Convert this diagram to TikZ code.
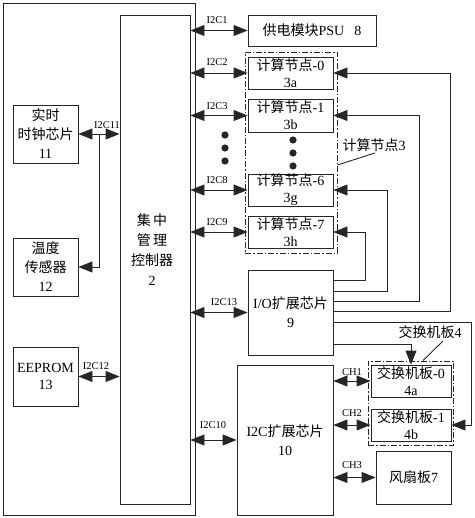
\documentclass[tikz,border=0pt]{standalone}
\usepackage{fontspec}
\setmainfont{Liberation Serif}
\newfontfamily\cjk{Noto Sans CJK SC}
\usetikzlibrary{arrows.meta,calc}
\newcommand\zh[1]{{\cjk #1}}
\tikzset{bigtip/.tip={Triangle[length=14pt,width=11pt]}}
\begin{document}
\begin{tikzpicture}[x=1pt,y=-1pt,
  line width=0.9pt, draw=black!85,
  >={bigtip},
  box/.style={draw, rectangle, inner sep=0pt, align=center,
    font=\fontsize{14}{17}\selectfont},
  txt/.style={inner sep=0pt, align=center, font=\fontsize{14}{17}\selectfont},
  lbl/.style={inner sep=0pt, font=\fontsize{10.5}{12}\selectfont},
  grp/.style={draw, rectangle, inner sep=0pt, dash pattern=on 6pt off 2pt on 1.5pt off 2pt},
  bi/.style={<->},
  tip/.style={->}]
\useasboundingbox (0,0) rectangle (474,518);

% left area
\node[box, minimum width=192, minimum height=512] (outer) at (99,259) {};
\node[box, minimum width=70, minimum height=489] (ctrl) at (155,259.5) {};
\node[txt, font=\fontsize{14}{20}\selectfont] (ctrlt) at (152,250) {\zh{集\,中}\\\zh{管\,理}\\\zh{控制器}\\2};
\node[box, minimum width=65, minimum height=58, font=\fontsize{14}{19}\selectfont] (rtc) at (45.5,134) {\zh{实时}\\\zh{时钟芯片}\\11};
\node[box, minimum width=65, minimum height=58, font=\fontsize{14}{19}\selectfont] (temp) at (45.5,267) {\zh{温度}\\\zh{传感器}\\12};
\node[box, minimum width=65, minimum height=59] (eeprom) at (45.5,376.5) {EEPROM\\13};

% right area boxes
\node[box, minimum width=128, minimum height=31] (psu) at (312,30.5) {\zh{供电模块}PSU\hspace{10pt}8};
\node[grp, minimum width=92, minimum height=201] (cng) at (291,152.5) {};
\node[box, minimum width=85, minimum height=32] (cn0) at (290.5,73) {\zh{计算节点}-0\\3a};
\node[box, minimum width=85, minimum height=33] (cn1) at (290.5,115.5) {\zh{计算节点}-1\\3b};
\node[box, minimum width=85, minimum height=32] (cn6) at (290.5,190) {\zh{计算节点}-6\\3g};
\node[box, minimum width=85, minimum height=32] (cn7) at (290.5,232) {\zh{计算节点}-7\\3h};
\node[box, minimum width=85, minimum height=85, font=\fontsize{14}{19}\selectfont] (io) at (290.5,312.5) {I/O\zh{扩展芯片}\\9};
\node[box, minimum width=96, minimum height=150, font=\fontsize{14}{19}\selectfont] (i2cx) at (285,440) {I2C\zh{扩展芯片}\\10};
\node[grp, minimum width=85, minimum height=84] (swg) at (410.5,403) {};
\node[box, minimum width=80, minimum height=32] (sw0) at (411,381) {\zh{交换机板}-0\\4a};
\node[box, minimum width=80, minimum height=32] (sw1) at (411,425) {\zh{交换机板}-1\\4b};
\node[box, minimum width=75, minimum height=53] (fan) at (413.5,477.5) {\zh{风扇板}7};

% dots
\foreach \yy in {135,148,161} \fill[black!85] (225,\yy) circle (3.6);
\foreach \yy in {140,153,166} \fill[black!85] (293,\yy) circle (3.6);

% left connections
\draw[bi] (rtc.east) -- (ctrl.west |- rtc.east);
\coordinate (j11) at ($(rtc.east)!0.5!(ctrl.west |- rtc.east)$);
\draw[tip] (j11) |- (temp.east);
\node[lbl] (l11) at (107,125) {I2C11};
\draw[bi] (eeprom.east) -- (ctrl.west |- eeprom.east);
\node[lbl] (l12) at (96,366) {I2C12};

% controller to right
\draw[bi] (ctrl.east |- psu.west) -- (psu.west);
\node[lbl] (l1) at (217,20) {I2C1};
\draw[bi] (ctrl.east |- cn0.west) -- (cn0.west);
\node[lbl] (l2) at (217,62) {I2C2};
\draw[bi] (ctrl.east |- cn1.west) -- (cn1.west);
\node[lbl] (l3) at (217,106) {I2C3};
\draw[bi] (ctrl.east |- cn6.west) -- (cn6.west);
\node[lbl] (l8) at (217,180) {I2C8};
\draw[bi] (ctrl.east |- cn7.west) -- (cn7.west);
\node[lbl] (l9) at (217,222) {I2C9};
\draw[bi] (ctrl.east |- io.west) -- (io.west);
\node[lbl] (l13) at (224,302) {I2C13};
\draw[bi] (ctrl.east |- i2cx.west) -- (i2cx.west);
\node[lbl] (l10) at (213,425) {I2C10};

% I/O feedback lines
\coordinate (o7) at ($(io.north east)+(0,11)$);
\coordinate (o6) at ($(io.north east)+(0,22)$);
\coordinate (o1) at ($(io.north east)+(0,32)$);
\coordinate (o0) at ($(io.north east)+(0,42)$);
\coordinate (o9) at ($(io.north east)+(0,53)$);
\coordinate (o8) at ($(io.north east)+(0,75)$);
\coordinate (v7) at (365,0);
\coordinate (v6) at (387,0);
\coordinate (v1) at (419,0);
\coordinate (v0) at (450,0);
\coordinate (v9) at (471,0);
\draw[tip] (o7) -- (o7 -| v7) |- (cn7.east);
\draw[tip] (o6) -- (o6 -| v6) |- (cn6.east);
\draw[tip] (o1) -- (o1 -| v1) |- (cn1.east);
\draw[tip] (o0) -- (o0 -| v0) |- (cn0.east);
\draw[tip] (o9) -- (o9 -| v9) |- (sw1.east);
\draw[tip] (o8) -| (sw0.north);

% I2C expander channels
\draw[bi] (i2cx.east |- sw0.west) -- (sw0.west);
\node[lbl] (ch1) at (352,372) {CH1};
\draw[bi] (i2cx.east |- sw1.west) -- (sw1.west);
\node[lbl] (ch2) at (352,413) {CH2};
\draw[bi] (i2cx.east |- fan.west) -- (fan.west);
\node[lbl] (ch3) at (352,465) {CH3};

% group labels
\node[txt] (lab3) at (374,145) {\zh{计算节点}3};
\draw ($(lab3.south)+(1,1)$) -- ($(cng.east)+(0,12.5)$);
\node[txt] (lab4) at (430,332) {\zh{交换机板}4};
\draw ($(lab4.south)+(13,2)$) -- ($(swg.north)+(12.5,0)$);
\end{tikzpicture}
\end{document}
